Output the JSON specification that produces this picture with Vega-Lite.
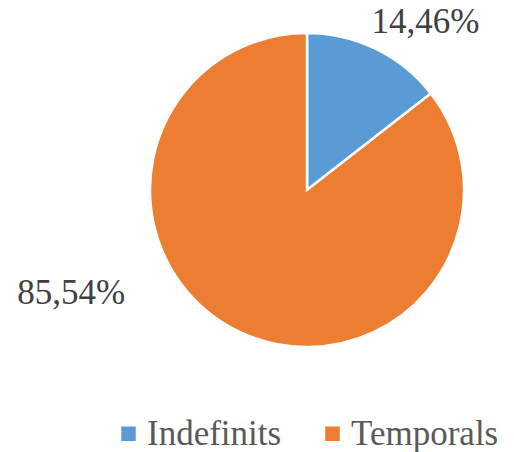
{
  "$schema": "https://vega.github.io/schema/vega-lite/v6.json",
  "autosize": "none",
  "width": 314,
  "height": 314,
  "padding": {"left": 150, "top": 33, "right": 50, "bottom": 105},
  "background": "white",
  "config": {"view": {"stroke": null}},
  "data": {
    "values": [
      {"category": "Indefinits", "value": 14.46, "label": "14,46%"},
      {"category": "Temporals", "value": 85.54, "label": "85,54%"}
    ]
  },
  "encoding": {
    "theta": {"field": "value", "type": "quantitative", "stack": true},
    "color": {
      "field": "category",
      "type": "nominal",
      "scale": {"domain": ["Indefinits", "Temporals"], "range": ["#5B9BD5", "#ED7D31"]},
      "legend": {
        "title": null,
        "orient": "none",
        "legendX": -39,
        "legendY": 383,
        "direction": "horizontal",
        "labelFont": "Liberation Serif",
        "labelFontSize": 35,
        "labelColor": "#595959",
        "labelOffset": 1,
        "labelLimit": 400,
        "symbolType": "square",
        "symbolSize": 210,
        "symbolStrokeWidth": 0,
        "columnPadding": 33
      }
    }
  },
  "layer": [
    {
      "mark": {"type": "arc", "outerRadius": 157, "stroke": "white", "strokeWidth": 2.5}
    },
    {
      "mark": {"type": "text", "radius": 190, "dx": 35, "dy": 3, "font": "Liberation Serif", "fontSize": 35, "color": "#404040", "align": "center", "baseline": "middle"},
      "encoding": {
        "text": {"condition": {"test": "datum.category === 'Indefinits'", "field": "label"}, "value": ""},
        "color": {"value": "#404040"}
      }
    },
    {
      "mark": {"type": "text", "radius": 150, "dx": -170, "dy": -32, "font": "Liberation Serif", "fontSize": 35, "color": "#404040", "align": "center", "baseline": "middle"},
      "encoding": {
        "text": {"condition": {"test": "datum.category === 'Temporals'", "field": "label"}, "value": ""},
        "color": {"value": "#404040"}
      }
    }
  ]
}
